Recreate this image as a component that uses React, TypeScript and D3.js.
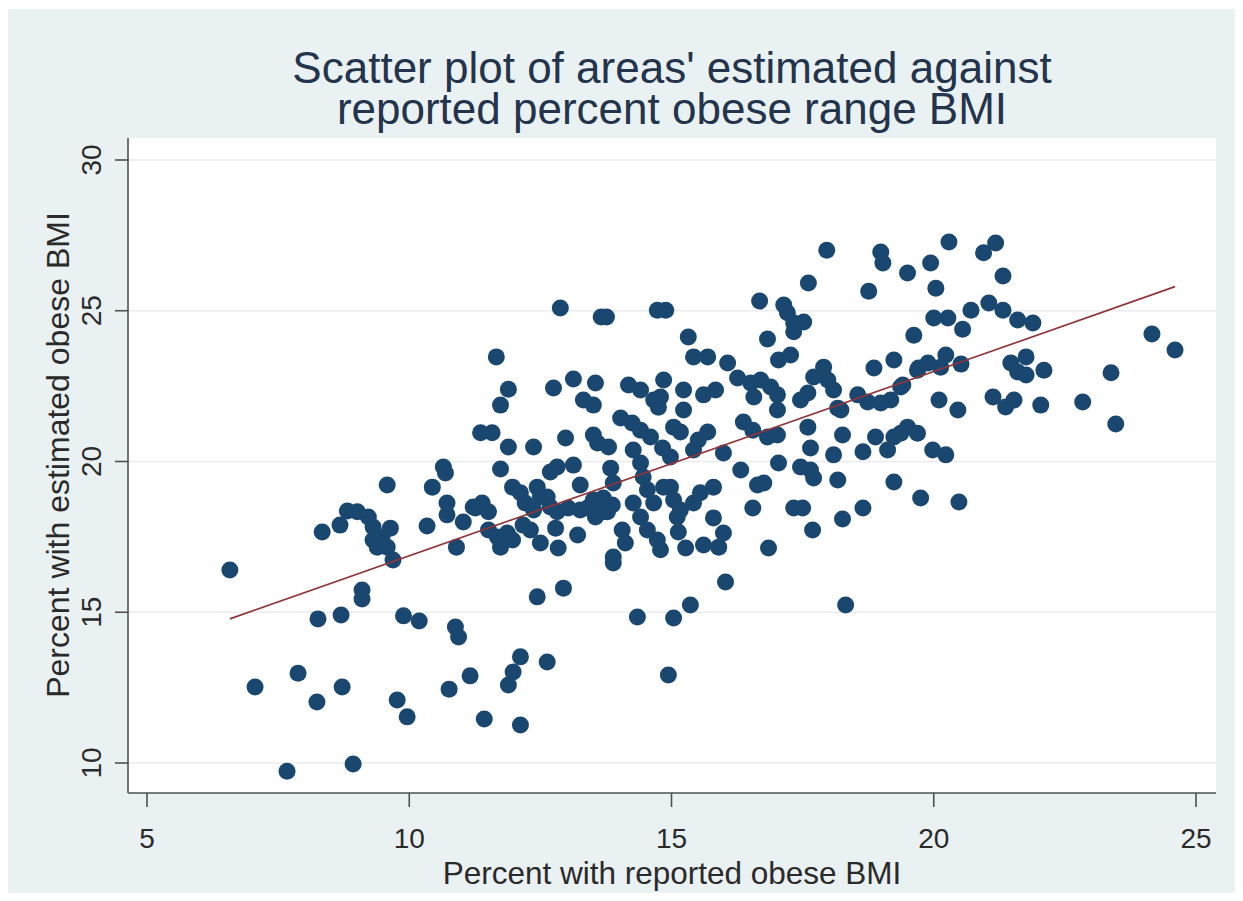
import React from "react";
import * as d3 from "d3";

// Area-level percentages: [reported obese BMI %, estimated obese BMI %]
const areas: [number, number][] = [
  [6.58, 16.4], [7.06, 12.52], [7.67, 9.73], [7.88, 12.98], [8.24, 12.02], [8.72, 12.52], [8.93, 9.97],
  [8.26, 14.78], [8.7, 14.91], [9.1, 15.74], [9.1, 15.44], [8.34, 17.66], [8.68, 17.89], [8.82, 18.36],
  [9.01, 18.33], [9.22, 18.16], [9.31, 17.83], [9.31, 17.4], [9.39, 17.16], [9.48, 17.5], [9.58, 17.16],
  [9.64, 17.79], [9.69, 16.73], [9.58, 19.22], [9.89, 14.88], [10.19, 14.71], [9.77, 12.09], [9.96, 11.53],
  [10.34, 17.86], [10.44, 19.15], [10.65, 19.82], [10.69, 19.62], [10.72, 18.62], [10.72, 18.23],
  [11.03, 17.99], [10.9, 17.16], [11.26, 18.46], [10.88, 14.51], [10.94, 14.18], [10.76, 12.45],
  [11.16, 12.89], [11.43, 11.46],
  [11.66, 23.47], [11.89, 22.4], [11.74, 21.87], [11.36, 20.95], [11.58, 20.95], [11.89, 20.48],
  [12.37, 20.48], [12.75, 22.44], [13.13, 22.74], [13.55, 22.6], [13.32, 22.04], [13.51, 21.87],
  [12.98, 20.78], [13.51, 20.88], [13.59, 20.61], [13.8, 20.48], [11.74, 19.75], [13.13, 19.88],
  [12.82, 19.82], [12.69, 19.65], [13.26, 19.22], [13.84, 19.78], [13.89, 19.29], [11.97, 19.15],
  [12.12, 18.96], [12.44, 19.15], [12.5, 18.82], [12.21, 18.62], [12.37, 18.39], [12.63, 18.82],
  [12.69, 18.49], [12.82, 18.33], [13.03, 18.46], [13.26, 18.39], [13.4, 18.46], [13.51, 18.72],
  [13.7, 18.79], [13.87, 18.56], [13.78, 18.33], [11.22, 18.49], [11.39, 18.62], [11.51, 18.33],
  [11.51, 17.73], [11.68, 17.5], [11.87, 17.63], [11.74, 17.16], [11.97, 17.4], [12.17, 17.89],
  [12.31, 17.73], [12.5, 17.3], [12.79, 17.79], [12.84, 17.13], [13.21, 17.56], [13.55, 18.16],
  [13.7, 18.33], [13.89, 16.83], [13.89, 16.63], [14.06, 17.73], [14.12, 17.3], [14.03, 21.44],
  [14.25, 21.28], [14.41, 21.04], [14.6, 20.81], [14.18, 22.54], [14.41, 22.37], [14.66, 22.04],
  [14.75, 21.8], [14.85, 22.7], [14.79, 22.14], [15.23, 22.37], [15.23, 21.71], [15.04, 21.14],
  [15.17, 20.98], [14.83, 20.45], [14.98, 20.15], [15.32, 24.13], [15.42, 23.47], [14.27, 20.38],
  [14.41, 19.95], [14.46, 19.49], [14.54, 19.06], [14.66, 18.62], [14.27, 18.62], [14.41, 18.16],
  [14.54, 17.73], [14.73, 17.4], [14.79, 17.07], [14.98, 19.15], [15.04, 18.72], [15.17, 18.39],
  [15.11, 18.16], [15.13, 17.66], [15.27, 17.13], [15.42, 18.62], [15.42, 20.38], [15.51, 20.71],
  [12.44, 15.51], [12.94, 15.8], [14.35, 14.84], [15.04, 14.81], [15.36, 15.24], [12.12, 13.52],
  [11.98, 13.02], [11.89, 12.59], [12.63, 13.35], [14.94, 12.92], [12.12, 11.26],
  [17.61, 25.92], [18.76, 25.65], [16.68, 25.32], [17.14, 25.19], [17.21, 24.93], [17.33, 24.59],
  [17.33, 24.3], [17.52, 24.63], [16.83, 24.06], [17.04, 23.37], [17.27, 23.53], [15.69, 23.47],
  [16.07, 23.27], [16.26, 22.77], [15.61, 22.21], [15.84, 22.37], [15.69, 20.98], [15.99, 20.28],
  [16.37, 21.31], [16.55, 21.04], [16.51, 22.6], [16.7, 22.7], [16.89, 22.47], [17.02, 22.21],
  [16.57, 22.14], [17.02, 21.71], [16.83, 20.81], [17.02, 20.88], [17.46, 22.04], [17.6, 22.27],
  [17.71, 22.8], [17.9, 23.13], [17.98, 22.7], [18.09, 22.37], [18.17, 21.77], [18.23, 21.71],
  [18.55, 22.21], [18.74, 21.97], [18.99, 21.94], [19.18, 22.04], [18.86, 23.1], [19.24, 23.37],
  [19.37, 22.47], [19.62, 24.19], [19.71, 23.1], [17.6, 21.14], [18.26, 20.88], [17.65, 20.45],
  [18.09, 20.22], [18.65, 20.32], [18.89, 20.81], [19.12, 20.38], [19.5, 21.14], [19.37, 20.94],
  [17.04, 19.95], [16.32, 19.72], [17.46, 19.82], [17.65, 19.72], [17.71, 19.45], [18.17, 19.39],
  [19.24, 19.32], [19.75, 18.79], [16.64, 19.22], [16.76, 19.29], [16.55, 18.46], [17.33, 18.46],
  [17.5, 18.46], [17.69, 17.73], [18.26, 18.09], [18.65, 18.46], [16.85, 17.13], [16.03, 16.0],
  [18.32, 15.24], [14.85, 19.15], [15.55, 18.96], [15.8, 19.15], [15.8, 18.13], [15.99, 17.63],
  [15.61, 17.23], [15.9, 17.16],
  [18.99, 26.95], [19.03, 26.58], [20.29, 27.28], [20.95, 26.92], [21.18, 27.25], [19.94, 26.58],
  [19.5, 26.25], [20.04, 25.75], [21.32, 26.15], [20.0, 24.76], [20.27, 24.76], [20.71, 25.02],
  [20.55, 24.39], [21.05, 25.26], [21.32, 25.02], [21.6, 24.69], [21.89, 24.59], [19.41, 22.54],
  [19.69, 23.03], [19.89, 23.27], [20.13, 23.13], [20.23, 23.53], [20.52, 23.23], [20.1, 22.04],
  [20.46, 21.71], [21.47, 23.27], [21.76, 23.47], [21.6, 22.97], [21.76, 22.87], [22.1, 23.03],
  [21.13, 22.14], [21.37, 21.81], [21.53, 22.04], [22.04, 21.87], [22.84, 21.97], [23.38, 22.94],
  [23.47, 21.24], [24.16, 24.23], [24.6, 23.7], [19.24, 20.81], [19.69, 20.94], [19.98, 20.38],
  [20.23, 20.22], [20.48, 18.66],
  [17.96, 27.01], [12.88, 25.09], [13.66, 24.79], [13.76, 24.79], [14.73, 25.02], [14.89, 25.02],
];

// Fitted linear prediction, evaluated at the smallest and largest reported value
const fitReported = [6.58, 24.6];
const fitEstimated = [14.78, 25.8];

const xTicks = [5, 10, 15, 20, 25];
const yTicks = [10, 15, 20, 25, 30];

const titleLines = [
  "Scatter plot of areas' estimated against",
  "reported percent obese range BMI",
];
const xTitle = "Percent with reported obese BMI";
const yTitle = "Percent with estimated obese BMI";

const W = 1243;
const H = 901;
const plot = { left: 128, right: 1216, top: 138, bottom: 793 };
const FONT = "'Liberation Sans', Arial, Helvetica, sans-serif";

export default function App() {
  const x = d3.scaleLinear().domain([5, 25]).range([147, 1196]);
  const y = d3.scaleLinear().domain([10, 30]).range([763, 160]);
  const fitLine = d3
    .line<number>()
    .x((d) => x(d))
    .y((_, i) => y(fitEstimated[i]));
  const cx = (plot.left + plot.right) / 2;

  return (
    <svg
      width={W}
      height={H}
      style={{ position: "absolute", left: 0, top: 0, display: "block" }}
      fontFamily={FONT}
    >
      <rect x={0} y={0} width={W} height={H} fill="#ffffff" />
      <rect x={8} y={9} width={1227} height={884} fill="#eaf1f2" />

      {/* two-line title */}
      <text fill="#24344c" fontSize={44} textAnchor="middle" x={cx} y={83}>
        {titleLines.map((t, i) => (
          <tspan key={t} x={cx} dy={i === 0 ? 0 : 41}>
            {t}
          </tspan>
        ))}
      </text>

      {/* plot region */}
      <rect
        x={plot.left}
        y={plot.top}
        width={plot.right - plot.left}
        height={plot.bottom - plot.top}
        fill="#ffffff"
      />
      {yTicks.map((t) => (
        <line
          key={`g${t}`}
          x1={plot.left}
          x2={plot.right}
          y1={y(t)}
          y2={y(t)}
          stroke="#eaeced"
          strokeWidth={1.6}
        />
      ))}

      {/* markers */}
      <g fill="#1a476f">
        {areas.map(([r, e], i) => (
          <circle key={i} cx={x(r)} cy={y(e)} r={8.5} />
        ))}
      </g>

      {/* linear fit */}
      <path d={fitLine(fitReported) ?? ""} fill="none" stroke="#90353b" strokeWidth={1.7} />

      {/* axes */}
      <line x1={plot.left} x2={plot.left} y1={plot.top} y2={plot.bottom} stroke="#505050" strokeWidth={1.6} />
      <line x1={plot.left} x2={plot.right} y1={plot.bottom} y2={plot.bottom} stroke="#505050" strokeWidth={1.6} />

      {xTicks.map((t) => (
        <g key={`x${t}`}>
          <line x1={x(t)} x2={x(t)} y1={plot.bottom} y2={plot.bottom + 14} stroke="#505050" strokeWidth={1.6} />
          <text x={x(t)} y={848} fontSize={28} textAnchor="middle" fill="#2a2a2a">
            {t}
          </text>
        </g>
      ))}
      {yTicks.map((t) => (
        <g key={`y${t}`}>
          <line x1={plot.left - 13} x2={plot.left} y1={y(t)} y2={y(t)} stroke="#505050" strokeWidth={1.6} />
          <text
            transform={`translate(101,${y(t)}) rotate(-90)`}
            fontSize={28}
            textAnchor="middle"
            fill="#2a2a2a"
          >
            {t}
          </text>
        </g>
      ))}

      <text x={cx} y={884} fontSize={31.5} textAnchor="middle" fill="#2a2a2a">
        {xTitle}
      </text>
      <text
        transform={`translate(69,455) rotate(-90)`}
        fontSize={32}
        textAnchor="middle"
        fill="#2a2a2a"
      >
        {yTitle}
      </text>
    </svg>
  );
}
